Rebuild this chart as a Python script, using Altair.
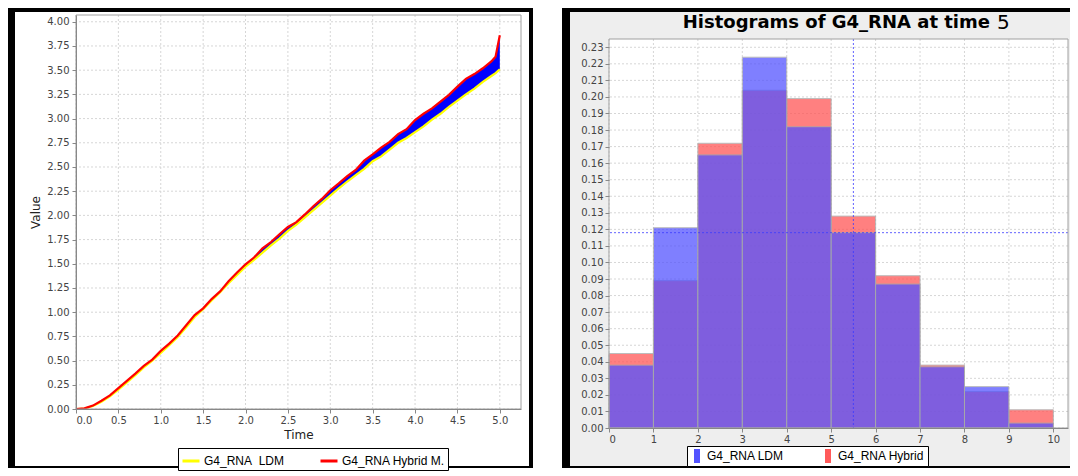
import altair as alt
import pandas as pd

# ---------------- left panel data ----------------
times = [0.0, 0.1, 0.2, 0.3, 0.4, 0.5, 0.6, 0.7, 0.8, 0.9,
         1.0, 1.1, 1.2, 1.3, 1.4, 1.5, 1.6, 1.7, 1.8, 1.9,
         2.0, 2.1, 2.2, 2.3, 2.4, 2.5, 2.6, 2.7, 2.8, 2.9,
         3.0, 3.1, 3.2, 3.3, 3.4, 3.5, 3.6, 3.7, 3.8, 3.9,
         4.0, 4.1, 4.2, 4.3, 4.4, 4.5, 4.6, 4.7, 4.8, 4.9, 4.95, 5.0]
ldm = [0.000, 0.005, 0.030, 0.075, 0.130, 0.200, 0.275, 0.350, 0.430, 0.500,
       0.580, 0.660, 0.745, 0.845, 0.950, 1.030, 1.120, 1.205, 1.300, 1.385,
       1.470, 1.540, 1.615, 1.690, 1.760, 1.840, 1.905, 1.980, 2.055, 2.130,
       2.205, 2.280, 2.350, 2.415, 2.480, 2.560, 2.610, 2.680, 2.750, 2.800,
       2.860, 2.920, 2.990, 3.050, 3.120, 3.185, 3.250, 3.310, 3.380, 3.440, 3.470, 3.510]
hybrid = [0.000, 0.006, 0.035, 0.085, 0.140, 0.215, 0.290, 0.365, 0.445, 0.510,
          0.600, 0.675, 0.760, 0.865, 0.970, 1.040, 1.135, 1.215, 1.320, 1.410,
          1.495, 1.565, 1.660, 1.725, 1.805, 1.880, 1.930, 2.010, 2.095, 2.170,
          2.260, 2.330, 2.405, 2.470, 2.565, 2.630, 2.700, 2.760, 2.840, 2.890,
          2.985, 3.050, 3.105, 3.175, 3.245, 3.330, 3.410, 3.460, 3.520, 3.590, 3.640, 3.860]
left_series = ["G4_RNA\u00a0 LDM", "G4_RNA Hybrid M."]
left_colors = ["#ffff00", "#ff0000"]
left_x_ticks = [0.0, 0.5, 1.0, 1.5, 2.0, 2.5, 3.0, 3.5, 4.0, 4.5, 5.0]
left_y_ticks = [0.0, 0.25, 0.5, 0.75, 1.0, 1.25, 1.5, 1.75, 2.0, 2.25, 2.5, 2.75,
                3.0, 3.25, 3.5, 3.75, 4.0]

# ---------------- right panel data ----------------
bin_start = [0, 1, 2, 3, 4, 5, 6, 7, 8, 9]
bin_end = [1, 2, 3, 4, 5, 6, 7, 8, 9, 10]
ldm_hist = [0.038, 0.121, 0.165, 0.224, 0.182, 0.118, 0.087, 0.037, 0.025, 0.003]
hybrid_hist = [0.045, 0.089, 0.172, 0.204, 0.199, 0.128, 0.092, 0.038, 0.022, 0.011]
right_series = ["G4_RNA LDM", "G4_RNA Hybrid"]
right_colors = ["#5353ff", "#ff5a5a"]
right_x_ticks = [0, 1, 2, 3, 4, 5, 6, 7, 8, 9, 10]
right_y_ticks = [0.00, 0.01, 0.02, 0.03, 0.04, 0.05, 0.06, 0.07, 0.08, 0.09, 0.10, 0.11,
                 0.12, 0.13, 0.14, 0.15, 0.16, 0.17, 0.18, 0.19, 0.20, 0.21, 0.22, 0.23]
cross_x = [5.5]
cross_y = [0.118]
title_main = "Histograms of G4_RNA at time"
title_time = "5"

GRID = "#d6d6d6"
one = pd.DataFrame({"k": [0]})


def deco_rect(x1, x2, y1, y2, color):
    return alt.Chart(one).mark_rect(color=color).encode(
        x=alt.value(x1), x2=alt.value(x2), y=alt.value(y1), y2=alt.value(y2))


def outline(x1, x2, y1, y2):
    return alt.Chart(one).mark_rect(fillOpacity=0, stroke="#a0a0a0", strokeWidth=1).encode(
        x=alt.value(x1), x2=alt.value(x2), y=alt.value(y1), y2=alt.value(y2))


# ================= LEFT =================
W1, H1 = 445, 394
xs1 = alt.Scale(domain=[0, 5.25], nice=False, zero=False)
ys1 = alt.Scale(domain=[0, 4.07], nice=False, zero=False)
xax1 = alt.Axis(values=left_x_ticks, format=".1f", grid=False, zindex=1,
                labelPadding=2, titlePadding=4)
yax1 = alt.Axis(values=left_y_ticks, format=".2f", grid=False, zindex=1,
                labelPadding=3, titlePadding=4)


def X1(f):
    return alt.X(f, type="quantitative", scale=xs1, axis=xax1, title="Time")


def Y1(f):
    return alt.Y(f, type="quantitative", scale=ys1, axis=yax1, title="Value")


band_df = pd.DataFrame({"t": times, "ldm": ldm, "hybrid": hybrid})
line_df = pd.concat([
    pd.DataFrame({"t": times, "v": ldm, "series": left_series[0]}),
    pd.DataFrame({"t": times, "v": hybrid, "series": left_series[1]}),
], ignore_index=True)

lcolor = alt.Color("series:N", scale=alt.Scale(domain=left_series, range=left_colors),
                   legend=alt.Legend(orient="none", legendX=102, legendY=433,
                                     direction="horizontal", title=None,
                                     symbolType="stroke", symbolSize=289,
                                     symbolStrokeWidth=3, labelFont="Liberation Sans",
                                     labelFontSize=12, labelColor="black", labelOffset=3,
                                     columnPadding=29, padding=3, strokeColor="black",
                                     fillColor="white", labelLimit=300))

l_grid_y = alt.Chart(pd.DataFrame({"gy": left_y_ticks})).mark_rule(
    color=GRID, strokeDash=[2, 2], strokeWidth=1).encode(y=Y1("gy"))
l_grid_x = alt.Chart(pd.DataFrame({"gx": left_x_ticks})).mark_rule(
    color=GRID, strokeDash=[2, 2], strokeWidth=1).encode(x=X1("gx"))
band = alt.Chart(band_df).mark_area(color="#0000ff").encode(
    x=X1("t"), y=Y1("ldm"), y2="hybrid")
line_ldm = alt.Chart(line_df).transform_filter(
    alt.datum.series == left_series[0]).mark_line(strokeWidth=2.2).encode(
    x=X1("t"), y=Y1("v"), color=lcolor)
line_hyb = alt.Chart(line_df).transform_filter(
    alt.datum.series == left_series[1]).mark_line(strokeWidth=2.2).encode(
    x=X1("t"), y=Y1("v"), color=lcolor)

left = alt.layer(
    deco_rect(-68, 457, -7, 453, "black"),
    deco_rect(-61, 453, -3, 451, "white"),
    l_grid_y, l_grid_x, band, line_ldm, line_hyb,
    outline(0, W1, 0, H1),
).properties(width=W1, height=H1)

# ================= RIGHT =================
# view spans page y 15..428 (top aligned with left view); plot frame starts at 24
W2, H2 = 459, 413
PT = 24
xs2 = alt.Scale(domain=[0, 10.33], nice=False, zero=False)
ys2 = alt.Scale(domain=[0, 0.2495], nice=False, zero=False)
xax2 = alt.Axis(values=right_x_ticks, format="d", grid=False, zindex=1,
                labelPadding=2, title=None)
yax2 = alt.Axis(values=right_y_ticks, format=".2f", grid=False, zindex=1,
                labelPadding=2, title=None, domain=False)


def X2(f):
    return alt.X(f, type="quantitative", scale=xs2, axis=xax2, title=None)


def Y2(f):
    return alt.Y(f, type="quantitative", scale=ys2, axis=yax2, title=None)


hist_df = pd.concat([
    pd.DataFrame({"start": bin_start, "end": bin_end, "value": ldm_hist,
                  "series": right_series[0]}),
    pd.DataFrame({"start": bin_start, "end": bin_end, "value": hybrid_hist,
                  "series": right_series[1]}),
], ignore_index=True)

rcolor = alt.Color("series:N", scale=alt.Scale(domain=right_series, range=right_colors),
                   legend=alt.Legend(orient="none", legendX=78, legendY=431,
                                     direction="horizontal", title=None,
                                     symbolType="M-0.43,-1H0.43V1H-0.43Z",
                                     symbolSize=196, symbolStrokeWidth=0,
                                     symbolOpacity=1, labelFont="Liberation Sans",
                                     labelFontSize=12, labelColor="black", labelOffset=3,
                                     columnPadding=37, padding=3, strokeColor="black",
                                     fillColor="white", labelLimit=300))

r_grid_y = alt.Chart(pd.DataFrame({"gy": right_y_ticks})).mark_rule(
    color=GRID, strokeDash=[2, 2], strokeWidth=1).encode(y=Y2("gy"))
r_grid_x = alt.Chart(pd.DataFrame({"gx": right_x_ticks})).mark_rule(
    color=GRID, strokeDash=[2, 2], strokeWidth=1).encode(
    x=X2("gx"), y=alt.value(PT), y2=alt.value(H2))
bars_hyb = alt.Chart(hist_df).transform_filter(
    alt.datum.series == right_series[1]).mark_rect(
    opacity=0.77, stroke="#a8a8a8", strokeWidth=1).encode(
    x=X2("start"), x2="end", y=Y2("value"), y2=alt.Y2(datum=0), color=rcolor)
bars_ldm = alt.Chart(hist_df).transform_filter(
    alt.datum.series == right_series[0]).mark_rect(
    opacity=0.74, stroke="#a8a8a8", strokeWidth=1).encode(
    x=X2("start"), x2="end", y=Y2("value"), y2=alt.Y2(datum=0), color=rcolor)
cross_v = alt.Chart(pd.DataFrame({"cx": cross_x})).mark_rule(
    color="#3a3aff", strokeDash=[2, 2], strokeWidth=0.8).encode(
    x=X2("cx"), y=alt.value(PT), y2=alt.value(H2))
cross_h = alt.Chart(pd.DataFrame({"cy": cross_y})).mark_rule(
    color="#3a3aff", strokeDash=[2, 2], strokeWidth=0.8).encode(y=Y2("cy"))
t1 = alt.Chart(one).mark_text(text=title_main, font="DejaVu Sans", fontSize=18,
                              fontWeight="bold", align="right", baseline="alphabetic",
                              color="black").encode(x=alt.value(381), y=alt.value(13))
t2 = alt.Chart(one).mark_text(text=title_time, font="DejaVu Sans", fontSize=20,
                              align="left", baseline="alphabetic",
                              color="black").encode(x=alt.value(388), y=alt.value(14))

right = alt.layer(
    deco_rect(-47, 461, -7, 453, "black"),
    deco_rect(-39, 461, -3, 451, "#eeeeee"),
    deco_rect(0, W2, PT, H2, "white"),
    r_grid_y, r_grid_x, bars_hyb, bars_ldm, cross_v, cross_h,
    outline(0, W2, PT, H2), t1, t2,
).properties(width=W2, height=H2)

chart = alt.hconcat(left, right, spacing=29).resolve_scale(
    color="independent").properties(
    padding=0, background="white"
).configure_view(strokeWidth=0).configure_axis(
    labelFont="DejaVu Sans", labelFontSize=10, labelColor="#444444",
    tickColor="#888888", domainColor="#888888", tickSize=4,
    titleFont="DejaVu Sans", titleFontSize=12, titleFontWeight="normal",
    titleColor="#222222")

chart.save("out.html", embed_options={"renderer": "svg", "actions": False})
